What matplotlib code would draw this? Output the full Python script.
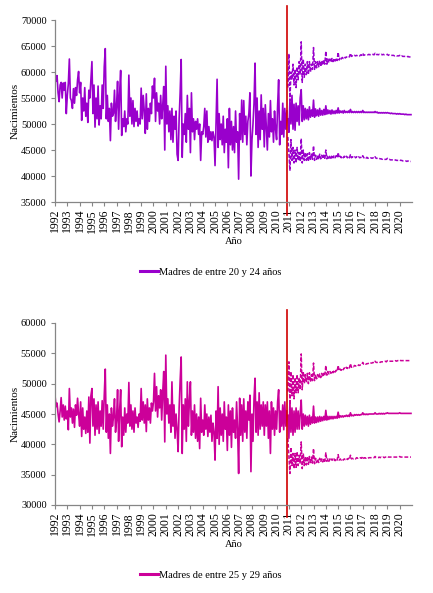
import matplotlib
matplotlib.use("Agg")
import matplotlib.pyplot as plt
import numpy as np

plt.rcParams['font.family'] = ['Liberation Serif', 'DejaVu Serif']

# ---------------- data ----------------
years = list(range(1992, 2021))
start_year = 1992
proj_start = 2010 + 11 / 12  # first projected month (Dec 2010)
cut_year = 2010.875

label_a = "Madres de entre 20 y 24 años"
label_b = "Madres de entre 25 y 29 años"

# Monthly births, mothers 20-24, Jan 1992 .. Nov 2010
hist_a = [
    59800, 58200, 59300, 56000, 54300, 57500, 58000, 55000, 57900, 56500, 58000, 52000,  # 1992
    55500, 57800, 62500, 55000, 54500, 53000, 56800, 54000, 57000, 55500, 58500, 60100,  # 1993
    56000, 58000, 50700, 55000, 52500, 57000, 51500, 54000, 50300, 56500, 55000, 58500,  # 1994
    62000, 52000, 57500, 49400, 55000, 51000, 57300, 49800, 53500, 51000, 57500, 53000,  # 1995
    61000, 64500, 51000, 55500, 50500, 53000, 46800, 54000, 51500, 52000, 56500, 50500,  # 1996
    53500, 58200, 49000, 56000, 60300, 47800, 51000, 49500, 52500, 48500, 51000, 50000,  # 1997
    59400, 51500, 55000, 50000, 54500, 49500, 53000, 50500, 52500, 49600, 51000, 50000,  # 1998
    56900, 51000, 55500, 52500, 48200, 55800, 49000, 53000, 50500, 54000, 52000, 57300,  # 1999
    55000, 58800, 50500, 56000, 52500, 54000, 50000, 55500, 51000, 53500, 57200, 45000,  # 2000
    61100, 50000, 53500, 48500, 52500, 47000, 53000, 46500, 51500, 49000, 52500, 44200,  # 2001
    43000, 51000, 56000, 62400, 43600, 50000, 48000, 52000, 46500, 55500, 49000, 53000,  # 2002
    44500, 56000, 48500, 51000, 47000, 50500, 49000, 51000, 48000, 50000, 43000, 48500,  # 2003
    48000, 49500, 53000, 47500, 52500, 46500, 49500, 47000, 48500, 46800, 48500, 47500,  # 2004
    42000, 50000, 58600, 45500, 52000, 47000, 50000, 46000, 51500, 44500, 49000, 46500,  # 2005
    51000, 41600, 53000, 46000, 50500, 45000, 49500, 44500, 52500, 46500, 48500, 39400,  # 2006
    52000, 47000, 54600, 46500, 54500, 48000, 51500, 46000, 50500, 52000, 56000, 40000,  # 2007
    47000, 50000, 54000, 61700, 48000, 55000, 45500, 52500, 47000, 55600, 49000, 53000,  # 2008
    45600, 53700, 49500, 45000, 52000, 47500, 54500, 48500, 51000, 46500, 52500, 49000,  # 2009
    47000, 53500, 58500, 46000, 50500, 48000, 54000, 47500, 53000, 49000, 52500,         # 2010
]

# Projection, mothers 20-24, Dec 2010 .. Dec 2020
proj_a_mid = [
    51000,
    48400, 54500, 50000, 55500, 49000, 53800, 48800, 54000, 50500, 53500, 49800, 55000,
    56600, 50500, 53500, 50800, 53000, 51000, 52800, 50800, 53300, 51300, 52700, 51500,
    54600, 51300, 52900, 51600, 52700, 51500, 53000, 51700, 52600, 51700, 52800, 51800,
    53500, 51900, 52700, 52000, 52600, 51900, 52700, 52000, 52500, 52000, 52600, 52100,
    53100, 52100, 52500, 52200, 52500, 52100, 52600, 52200, 52400, 52200, 52500, 52200,
    52800, 52200, 52400, 52200, 52400, 52200, 52400, 52200, 52400, 52200, 52400, 52200,
    52600, 52200, 52300, 52200, 52300, 52200, 52300, 52200, 52300, 52200, 52300, 52200,
    52400, 52200, 52300, 52100, 52200, 52100, 52200, 52100, 52200, 52100, 52200, 52100,
    52200, 52100, 52100, 52000, 52100, 52000, 52000, 52000, 52000, 51900, 52000, 51900,
    52000, 51900, 51900, 51900, 51900, 51800, 51900, 51800, 51800, 51800, 51800, 51800,
]
proj_a_high = [
    57000,
    63500, 54500, 60000, 58500, 61500, 57500, 60500, 57000, 61000, 58500, 62000, 59500,
    65800, 58000, 62500, 59000, 61500, 59500, 62000, 59500, 62000, 60000, 61500, 60500,
    64700, 60500, 62000, 60800, 62000, 61000, 62200, 61000, 62200, 61300, 62300, 61500,
    64000, 61500, 62500, 61800, 62500, 61900, 62600, 62000, 62600, 62100, 62700, 62200,
    63800, 62300, 62800, 62500, 62800, 62600, 62900, 62700, 62900, 62800, 63000, 62900,
    63600, 63000, 63100, 63000, 63200, 63100, 63200, 63100, 63200, 63100, 63300, 63200,
    63600, 63200, 63300, 63300, 63300, 63300, 63400, 63300, 63400, 63300, 63400, 63300,
    63600, 63300, 63400, 63300, 63400, 63300, 63400, 63300, 63400, 63300, 63300, 63300,
    63400, 63200, 63300, 63200, 63200, 63200, 63200, 63100, 63200, 63100, 63100, 63100,
    63200, 63000, 63100, 63000, 63000, 63000, 63000, 62900, 63000, 62900, 62900, 62900,
]
proj_a_low = [
    47500,
    44500, 41000, 47000, 43000, 45500, 42500, 45000, 42500, 45500, 43000, 44500, 42800,
    47200, 42500, 45000, 43000, 44500, 43000, 44300, 42800, 44500, 43200, 44200, 43200,
    45800, 43000, 44000, 43200, 44000, 43200, 44200, 43300, 44000, 43300, 44000, 43400,
    45000, 43300, 43900, 43400, 43900, 43400, 44000, 43500, 43900, 43500, 43900, 43500,
    44500, 43500, 43800, 43500, 43800, 43500, 43800, 43500, 43800, 43500, 43800, 43500,
    44100, 43500, 43700, 43500, 43700, 43500, 43700, 43500, 43700, 43500, 43600, 43500,
    43900, 43500, 43600, 43400, 43600, 43400, 43500, 43400, 43500, 43400, 43500, 43400,
    43700, 43400, 43400, 43300, 43400, 43300, 43300, 43200, 43300, 43200, 43200, 43200,
    43400, 43200, 43200, 43100, 43100, 43100, 43100, 43000, 43100, 43000, 43000, 43000,
    43100, 43000, 43000, 42900, 42900, 42900, 42900, 42800, 42900, 42800, 42800, 42800,
]

# Monthly births, mothers 25-29, Jan 1992 .. Nov 2010
hist_b = [
    48100, 46200, 46800, 45000, 43700, 45500, 47700, 44500, 46500, 44000, 46300, 44200,  # 1992
    45500, 42400, 49200, 44500, 46000, 43500, 45800, 42800, 46500, 44800, 47600, 45000,  # 1993
    43000, 47000, 41300, 46000, 42500, 44500, 41800, 45500, 42000, 47800, 40200, 48000,  # 1994
    49200, 43000, 47500, 41500, 46500, 42500, 47000, 41800, 45500, 43000, 47200, 42500,  # 1995
    48000, 52400, 42000, 46500, 41000, 45000, 38500, 46000, 43000, 44500, 47500, 42000,  # 1996
    44000, 49000, 40500, 45500, 49000, 39600, 44500, 41500, 46000, 42000, 45000, 43500,  # 1997
    50200, 43000, 46500, 42500, 45500, 42000, 46000, 43500, 44500, 42800, 45000, 43800,  # 1998
    49200, 44000, 47000, 43500, 46500, 42100, 47500, 44000, 46000, 43500, 46800, 45500,  # 1999
    47000, 51700, 45500, 49500, 44500, 48000, 46000, 49000, 44000, 48500, 52000, 40400,  # 2000
    54700, 45000, 47500, 43500, 46500, 42000, 50300, 43000, 46500, 41000, 45000, 42500,  # 2001
    38800, 46000, 50500, 54400, 38500, 46500, 42500, 47500, 40500, 50300, 43000, 47000,  # 2002
    50300, 41500, 45500, 42000, 46500, 41000, 45000, 40500, 44500, 39300, 47600, 42000,  # 2003
    44000, 41500, 46500, 42500, 45000, 41300, 44500, 42000, 44800, 40500, 43500, 42000,  # 2004
    37400, 45500, 41000, 49500, 40000, 46000, 41500, 45000, 40500, 47000, 42500, 44500,  # 2005
    39000, 46500, 41500, 45500, 39500, 46000, 42000, 44000, 41000, 47000, 42500, 35200,  # 2006
    47600, 41500, 46500, 40500, 47500, 42000, 45500, 41000, 47000, 44000, 48100, 35500,  # 2007
    45000, 40500, 47500, 50900, 42000, 47000, 41500, 48500, 42500, 46500, 43000, 47000,  # 2008
    41500, 46500, 43000, 47000, 41000, 45500, 38500, 47000, 42500, 46000, 41500, 45500,  # 2009
    42500, 47000, 49000, 42000, 45500, 43000, 46500, 42400, 47000, 43000, 45500,         # 2010
]

proj_b_mid = [
    44800,
    41000, 47000, 42000, 46000, 41500, 45500, 42000, 46000, 42500, 45500, 42500, 45000,
    47300, 42500, 45000, 43000, 44800, 43200, 44600, 43000, 44800, 43300, 44500, 43500,
    46300, 43500, 44500, 43600, 44500, 43700, 44600, 43800, 44500, 43900, 44600, 44000,
    45600, 44000, 44600, 44100, 44600, 44200, 44600, 44200, 44600, 44300, 44600, 44300,
    45300, 44400, 44700, 44500, 44700, 44500, 44700, 44600, 44800, 44600, 44800, 44600,
    45200, 44700, 44800, 44700, 44900, 44800, 44900, 44800, 44900, 44800, 44900, 44900,
    45200, 44900, 45000, 44900, 45000, 44900, 45000, 45000, 45000, 45000, 45000, 45000,
    45200, 45000, 45000, 45000, 45100, 45000, 45100, 45000, 45100, 45000, 45100, 45100,
    45200, 45100, 45100, 45100, 45100, 45100, 45100, 45100, 45100, 45100, 45100, 45100,
    45200, 45100, 45100, 45100, 45100, 45100, 45100, 45100, 45100, 45100, 45100, 45100,
]
proj_b_high = [
    48700,
    53600, 46500, 52000, 48000, 51500, 47500, 51000, 48500, 51500, 48500, 51000, 49000,
    54900, 49000, 52000, 50000, 51500, 50200, 51700, 50000, 51800, 50300, 51500, 50500,
    53400, 50500, 51500, 50800, 51500, 50900, 51600, 51000, 51700, 51100, 51700, 51300,
    53000, 51400, 52000, 51600, 52000, 51700, 52100, 51800, 52200, 51900, 52200, 52000,
    53000, 52100, 52400, 52200, 52500, 52300, 52600, 52400, 52700, 52500, 52800, 52600,
    53300, 52700, 52900, 52800, 53000, 52900, 53000, 52900, 53100, 53000, 53100, 53100,
    53500, 53200, 53300, 53200, 53300, 53300, 53400, 53300, 53400, 53400, 53500, 53400,
    53700, 53500, 53500, 53500, 53600, 53500, 53600, 53600, 53600, 53600, 53700, 53600,
    53800, 53700, 53700, 53700, 53700, 53700, 53700, 53700, 53800, 53700, 53800, 53800,
    53900, 53800, 53800, 53800, 53800, 53800, 53800, 53800, 53800, 53800, 53800, 53800,
]
proj_b_low = [
    41000,
    38000, 35200, 39500, 36500, 38500, 36000, 38500, 36200, 38800, 36500, 38200, 36800,
    40400, 36000, 38500, 36500, 38000, 36600, 38000, 36700, 38000, 36800, 37900, 36900,
    39300, 36800, 37700, 37000, 37600, 37000, 37700, 37100, 37600, 37100, 37600, 37200,
    38600, 37200, 37600, 37200, 37600, 37300, 37600, 37300, 37600, 37300, 37600, 37400,
    38300, 37400, 37600, 37400, 37600, 37400, 37600, 37500, 37700, 37500, 37700, 37500,
    38200, 37600, 37700, 37600, 37700, 37600, 37800, 37700, 37800, 37700, 37800, 37700,
    38000, 37700, 37800, 37700, 37800, 37700, 37800, 37800, 37800, 37800, 37800, 37800,
    38000, 37800, 37800, 37800, 37900, 37800, 37900, 37800, 37900, 37800, 37900, 37900,
    38000, 37900, 37900, 37900, 37900, 37900, 37900, 37900, 37900, 37900, 37900, 37900,
    38000, 37900, 37900, 37900, 37900, 37900, 37900, 37900, 37900, 37900, 37900, 37900,
]

cut_a = [32500, 72700]   # vertical marker extent, chart A
cut_b = [28000, 62100]   # vertical marker extent, chart B
ylim_a = (35000, 70000)
ylim_b = (30000, 60000)

# ---------------- plotting ----------------
W, H = 433, 593
fig = plt.figure(figsize=(W / 100, H / 100), dpi=100)
fig.patch.set_facecolor('white')

FS = 7.5      # horizontal text
FS_ROT = 8.5  # rotated year labels
GRAY = '#868686'


def panel(rect, hist, mid, high, low, cut, ylim, color, label):
    ax = fig.add_axes(rect)
    xh = start_year + np.arange(len(hist)) / 12.0
    xp = proj_start + np.arange(len(mid)) / 12.0
    ax.plot(xh, hist, color=color, lw=1.2, label=label, solid_joinstyle='round')
    ax.plot(xp, mid, color=color, lw=1.2)
    ax.plot(xp, high, color=color, lw=1.1, ls=(0, (2.5, 1.2)))
    ax.plot(xp, low, color=color, lw=1.1, ls=(0, (2.5, 1.2)))
    ax.plot([cut_year, cut_year], cut, color='#D00000', lw=1.2, clip_on=False)
    ax.set_xlim(years[0], years[-1] + 1)
    ax.set_ylim(*ylim)
    ax.set_yticks(np.arange(ylim[0], ylim[1] + 1, 5000))
    ax.set_xticks(years)
    ax.set_xticklabels([str(y) for y in years], rotation=90, fontsize=FS_ROT)
    ax.tick_params(axis='y', labelsize=FS, length=3, width=0.8, color=GRAY,
                   direction='out', pad=3)
    ax.tick_params(axis='x', length=3, width=0.8, color=GRAY, direction='out', pad=2)
    for s in ['top', 'right']:
        ax.spines[s].set_visible(False)
    for s in ['left', 'bottom']:
        ax.spines[s].set_color(GRAY)
        ax.spines[s].set_linewidth(0.9)
    ax.set_ylabel('Nacimientos', fontsize=8)
    ax.yaxis.set_label_coords(-0.10, 0.5)
    ax.set_xlabel('Año', fontsize=FS)
    ax.xaxis.set_label_coords(0.5, -0.19)
    leg = ax.legend(loc='center', bbox_to_anchor=(0.437, -0.385), frameon=False,
                    fontsize=FS, handlelength=1.7, handletextpad=0.1)
    for h in leg.get_lines():
        h.set_linewidth(2.2)
    return ax


ax_h = 182 / H
ax_w = 357 / W
left = 55 / W
panel([left, 1 - 202 / H, ax_w, ax_h], hist_a, proj_a_mid, proj_a_high, proj_a_low,
      cut_a, ylim_a, '#9900CC', label_a)
panel([left, 1 - 505 / H, ax_w, ax_h], hist_b, proj_b_mid, proj_b_high, proj_b_low,
      cut_b, ylim_b, '#CC0099', label_b)

fig.savefig('out.png', dpi=100, facecolor='white')
